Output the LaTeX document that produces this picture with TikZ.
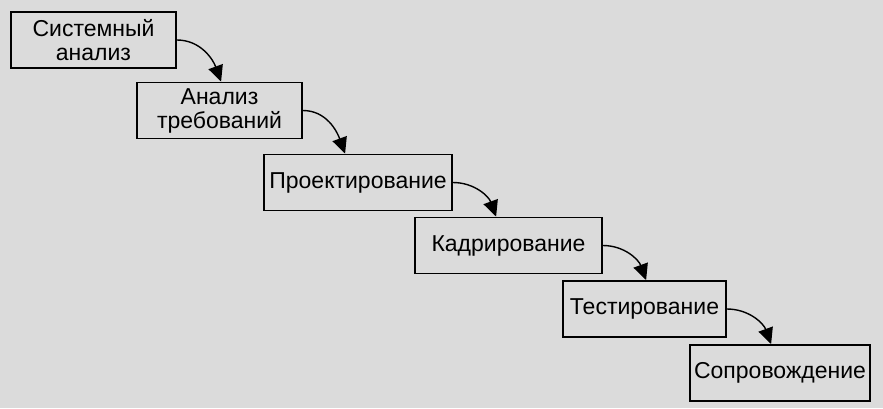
\documentclass[tikz,border=0pt]{standalone}
\usepackage{fontspec}
\setmainfont{Liberation Sans}
\usepackage{tikz}
\usetikzlibrary{arrows.meta}
\definecolor{skan}{gray}{0.86}
\tikzstyle{line} = [line width=0.7pt, -{Triangle[length=8pt,width=7.5pt]}]
\tikzstyle{etap} = [draw, rectangle, line width=0.9pt, align=center, minimum height=28pt, inner sep=2pt, font=\fontsize{11.5}{12}\selectfont]

\begin{document}
\begin{tikzpicture}[x=0.5pt, y=-0.5pt]
        \fill[skan] (0,0) rectangle (883,408);
        \useasboundingbox (0,0) rectangle (883,408);
        \node[etap, minimum width=82.5pt](Sistemny) at (93.5,40){Системный\\анализ};
        \node[etap, minimum width=82.5pt](Trebovaniya) at (219.5,110.5){Анализ\\требований};
        \node[etap, minimum width=94pt](Proekt) at (358,182.5){Проектирование};
        \node[etap, minimum width=93.5pt](Kadr) at (508.5,245.5){Кадрирование};
        \node[etap, minimum width=81.5pt](Test) at (644.5,309){Тестирование};
        \node[etap, minimum width=90pt](Soprov) at (780,373){Сопровождение};
        \path[line](Sistemny.east) edge[out=0, in=110] ([xshift=42.5pt]Trebovaniya.north west);
        \path[line](Trebovaniya.east) edge[out=0, in=110] ([xshift=41pt]Proekt.north west);
        \path[line](Proekt.east) edge[out=0, in=110] ([xshift=41pt]Kadr.north west);
        \path[line](Kadr.east) edge[out=0, in=110] ([xshift=42pt]Test.north west);
        \path[line](Test.east) edge[out=0, in=110] ([xshift=41pt]Soprov.north west);
    \end{tikzpicture}
\end{document}
